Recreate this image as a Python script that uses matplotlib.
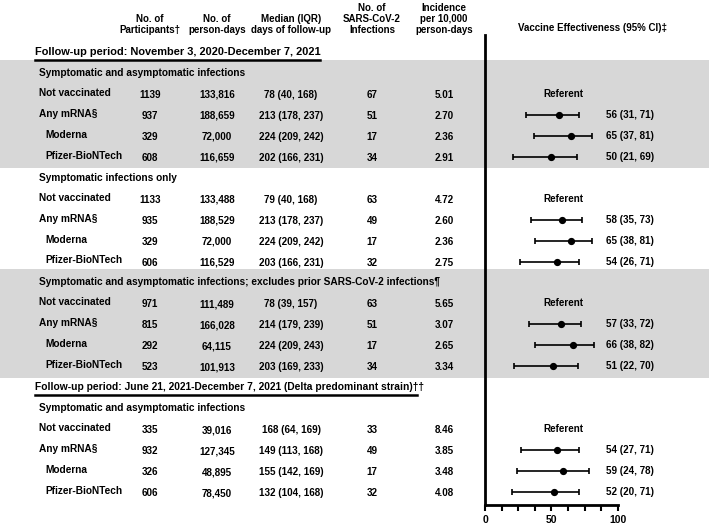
import matplotlib
matplotlib.use("Agg")
import matplotlib.pyplot as plt
import matplotlib.transforms as mtransforms
from matplotlib.patches import Rectangle
from matplotlib.lines import Line2D

plt.rcParams['font.family'] = ['Liberation Sans', 'DejaVu Sans']
plt.rcParams['font.weight'] = 'bold'

# ---- data ----
periods = ["Follow-up period: November 3, 2020-December 7, 2021",
           "Follow-up period: June 21, 2021-December 7, 2021 (Delta predominant strain)\u2020\u2020"]
section_titles = ["Symptomatic and asymptomatic infections",
                  "Symptomatic infections only",
                  "Symptomatic and asymptomatic infections; excludes prior SARS-CoV-2 infections\u00b6",
                  "Symptomatic and asymptomatic infections"]
groups = ["Not vaccinated", "Any mRNA\u00a7", "Moderna", "Pfizer-BioNTech"]
participants = [[1139, 937, 329, 608], [1133, 935, 329, 606],
                [971, 815, 292, 523], [335, 932, 326, 606]]
person_days = [["133,816", "188,659", "72,000", "116,659"],
               ["133,488", "188,529", "72,000", "116,529"],
               ["111,489", "166,028", "64,115", "101,913"],
               ["39,016", "127,345", "48,895", "78,450"]]
median_fu = [["78 (40, 168)", "213 (178, 237)", "224 (209, 242)", "202 (166, 231)"],
             ["79 (40, 168)", "213 (178, 237)", "224 (209, 242)", "203 (166, 231)"],
             ["78 (39, 157)", "214 (179, 239)", "224 (209, 243)", "203 (169, 233)"],
             ["168 (64, 169)", "149 (113, 168)", "155 (142, 169)", "132 (104, 168)"]]
infections = [[67, 51, 17, 34], [63, 49, 17, 32], [63, 51, 17, 34], [33, 49, 17, 32]]
incidence = [["5.01", "2.70", "2.36", "2.91"], ["4.72", "2.60", "2.36", "2.75"],
             ["5.65", "3.07", "2.65", "3.34"], ["8.46", "3.85", "3.48", "4.08"]]
ve = [[56, 65, 50], [58, 65, 54], [57, 66, 51], [54, 59, 52]]
ve_lo = [[31, 37, 21], [35, 38, 26], [33, 38, 22], [27, 24, 20]]
ve_hi = [[71, 81, 69], [73, 81, 71], [72, 82, 70], [71, 78, 71]]
col_headers = ["No. of\nParticipants\u2020", "No. of\nperson-days", "Median (IQR)\ndays of follow-up",
               "No. of\nSARS-CoV-2\nInfections", "Incidence\nper 10,000\nperson-days"]

# row layout (one row per text line)
period_rows = [0, 16]
section_rows = [1, 6, 11, 17]
shaded = [0, 2]

W, H = 709, 525
fig = plt.figure(figsize=(W / 100, H / 100), dpi=100)
ax = fig.add_axes([485 / W, 20 / H, 132.7 / W, 470 / H])
ax.patch.set_visible(False)
ax.set_xlim(0, 100)
ax.set_ylim(21.62, -0.81)
tr = mtransforms.blended_transform_factory(fig.transFigure, ax.transData)

col_x = [150, 217, 291, 372, 444]
fs_lab = 7.3
fs_num = 7.1

# column headers
for cx, txt in zip(col_x, col_headers):
    fig.text(cx / W, 1 - 35 / H, txt, ha='center', va='bottom', fontsize=7.0, linespacing=1.15)
fig.text(593 / W, 1 - 28 / H, "Vaccine Effectiveness (95% CI)\u2021", ha='center', va='center', fontsize=7.0)

# follow-up period titles with underline
for r, txt, x1, f in zip(period_rows, periods, [320, 417], [7.9, 7.4]):
    ax.text(35 / W, r, txt, transform=tr, ha='left', va='center', fontsize=f, clip_on=False)
    ax.add_line(Line2D([35 / W, x1 / W], [r + 0.36, r + 0.36], transform=tr, color='black', lw=1.8, clip_on=False))

for k, r0 in enumerate(section_rows):
    if k in shaded:
        ax.add_patch(Rectangle((0, r0 - 0.62), 1, 5.17, transform=tr, facecolor='#d7d7d7',
                               edgecolor='none', zorder=0, clip_on=False))
    ax.text(39 / W, r0, section_titles[k], transform=tr, ha='left', va='center', fontsize=fs_lab, clip_on=False)
    for j, g in enumerate(groups):
        r = r0 + 1 + j
        lx = 39 if j < 2 else 45
        ax.text(lx / W, r - 0.05, g, transform=tr, ha='left', va='center', fontsize=fs_lab, clip_on=False)
        vals = [str(participants[k][j]), person_days[k][j], median_fu[k][j],
                str(infections[k][j]), incidence[k][j]]
        for cx, v in zip(col_x, vals):
            ax.text(cx / W, r + 0.05, v, transform=tr, ha='center', va='center', fontsize=fs_num, clip_on=False)
        if j == 0:
            ax.text(59, r, "Referent", ha='center', va='center', fontsize=fs_num, clip_on=False)
        else:
            e, lo, hi = ve[k][j - 1], ve_lo[k][j - 1], ve_hi[k][j - 1]
            ax.errorbar([e], [r], xerr=[[e - lo], [hi - e]], fmt='o', color='black', ms=4.2,
                        capsize=2.0, elinewidth=1.2, capthick=1.2, clip_on=False)
            ax.text(91.5, r, f"{e} ({lo}, {hi})", ha='left', va='center', fontsize=fs_num, clip_on=False)

# axis styling
for s in ['top', 'right']:
    ax.spines[s].set_visible(False)
ax.spines['left'].set_linewidth(2)
ax.spines['bottom'].set_linewidth(2)
ax.set_yticks([])
ticks = [i * 12.5 for i in range(9)]
ax.set_xticks(ticks)
ax.set_xticklabels(["0" if t == 0 else "50" if t == 50 else "100" if t == 100 else "" for t in ticks],
                   fontsize=7.5, fontweight='bold')
ax.tick_params(axis='x', direction='out', length=4, width=1.5, pad=3)

fig.savefig("out.png", dpi=100)
